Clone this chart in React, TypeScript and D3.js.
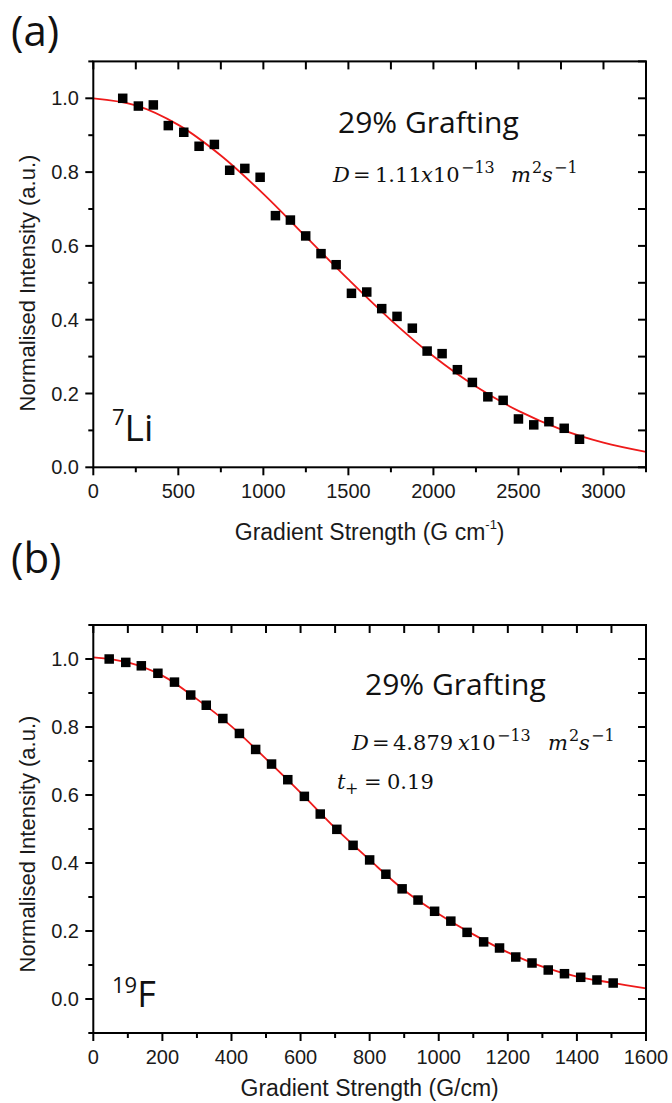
import React from "react";
import * as d3 from "d3";

// ---------- Data ----------
// Panel (a): 7Li
const liGradient = [173, 265, 353, 441, 532, 622, 712, 802, 891, 981, 1071, 1159, 1249, 1339, 1428, 1518, 1608, 1696, 1786, 1876, 1963, 2051, 2141, 2229, 2320, 2410, 2500, 2590, 2679, 2769, 2859];
const liIntensity = [1.0, 0.979, 0.982, 0.926, 0.908, 0.870, 0.875, 0.805, 0.810, 0.786, 0.682, 0.670, 0.627, 0.579, 0.549, 0.4715, 0.475, 0.430, 0.409, 0.377, 0.315, 0.308, 0.2645, 0.230, 0.191, 0.1815, 0.131, 0.115, 0.1236, 0.1057, 0.076];
const liFitGradient = [0, 250, 500, 750, 1000, 1250, 1500, 1750, 2000, 2250, 2500, 2750, 3000, 3250];
const liFitIntensity = [1.0, 0.981, 0.928, 0.845, 0.741, 0.625, 0.509, 0.399, 0.301, 0.219, 0.153, 0.103, 0.067, 0.042];

// Panel (b): 19F
const fGradient = [46, 94, 139, 187, 235, 282, 327, 375, 423, 470, 516, 563, 611, 657, 705, 752, 800, 847, 894, 940, 988, 1035, 1082, 1130, 1176, 1223, 1270, 1317, 1364, 1411, 1458, 1505];
const fIntensity = [1.0, 0.990, 0.980, 0.958, 0.932, 0.894, 0.864, 0.825, 0.781, 0.734, 0.691, 0.645, 0.596, 0.544, 0.499, 0.452, 0.409, 0.367, 0.324, 0.291, 0.258, 0.229, 0.196, 0.168, 0.150, 0.1235, 0.1059, 0.0853, 0.0744, 0.0638, 0.0559, 0.047];
const fFitGradient = [0, 100, 200, 300, 400, 500, 600, 700, 800, 900, 1000, 1100, 1200, 1300, 1400, 1500, 1600];
const fFitIntensity = [1.005, 0.990, 0.951, 0.882, 0.802, 0.706, 0.607, 0.503, 0.409, 0.320, 0.250, 0.190, 0.137, 0.095, 0.066, 0.048, 0.031];

// Tick labels
const liXTicks = [0, 500, 1000, 1500, 2000, 2500, 3000];
const fXTicks = [0, 200, 400, 600, 800, 1000, 1200, 1400, 1600];
const yTicks = [0.0, 0.2, 0.4, 0.6, 0.8, 1.0];

const SANS = "'Liberation Sans', Arial, sans-serif";
const UI = "'Open Sans', 'Noto Sans', sans-serif";
const MATH = "'DejaVu Serif', 'Liberation Serif', serif";
const RED = "#ee1a1a";

type PanelProps = {
  top: number;
  bottom: number;
  xDomain: [number, number];
  yDomain: [number, number];
  xMajor: number[];
  xMinorStep: number;
  gx: number[];
  iy: number[];
  fitX: number[];
  fitY: number[];
  xTitle: React.ReactNode;
  xTitleY: number;
  yTitleCenter: number;
};

function Panel(p: PanelProps) {
  const left = 93.3;
  const right = 646;
  const x = d3.scaleLinear().domain(p.xDomain).range([left, right]);
  const y = d3.scaleLinear().domain(p.yDomain).range([p.bottom, p.top]);
  const xMinor = d3.range(p.xDomain[0], p.xDomain[1] + 1e-6, p.xMinorStep);
  const yAll = d3.range(Math.round(p.yDomain[0] * 10), Math.round(p.yDomain[1] * 10) + 1).map((v) => v / 10);
  const isMajorY = (v: number) => yTicks.some((t) => Math.abs(t - v) < 1e-6);
  const isMajorX = (v: number) => p.xMajor.some((t) => Math.abs(t - v) < 1e-6);
  const line = d3
    .line<number>()
    .x((_, i) => x(p.fitX[i]))
    .y((d) => y(d))
    .curve(d3.curveCatmullRom);
  const sq = 9.5;
  return (
    <g>
      <path d={line(p.fitY) || ""} fill="none" stroke={RED} strokeWidth={1.8} />
      {p.gx.map((g, i) => (
        <rect key={i} x={x(g) - sq / 2} y={y(p.iy[i]) - sq / 2} width={sq} height={sq} fill="#000" />
      ))}
      <rect x={left} y={p.top} width={right - left} height={p.bottom - p.top} fill="none" stroke="#000" strokeWidth={2} />
      {xMinor.map((v, i) => {
        const major = isMajorX(v);
        const len = major ? 8 : 5;
        return (
          <g key={"x" + i}>
            <line x1={x(v)} x2={x(v)} y1={p.bottom} y2={p.bottom + len} stroke="#000" strokeWidth={2} />
            <line x1={x(v)} x2={x(v)} y1={p.top} y2={p.top + 8} stroke="#000" strokeWidth={2} />
          </g>
        );
      })}
      {yAll.map((v, i) => {
        const major = isMajorY(v);
        const len = major ? 8 : 5;
        return (
          <g key={"y" + i}>
            <line x1={left - len} x2={left} y1={y(v)} y2={y(v)} stroke="#000" strokeWidth={2} />
            <line x1={right - 8} x2={right} y1={y(v)} y2={y(v)} stroke="#000" strokeWidth={2} />
          </g>
        );
      })}
      {p.xMajor.map((v) => (
        <text key={"xl" + v} x={x(v)} y={p.bottom + 31} textAnchor="middle" fontFamily={SANS} fontSize={20} fill="#1a1a1a">
          {v}
        </text>
      ))}
      {yTicks.map((v) => (
        <text key={"yl" + v} x={79} y={y(v) + 7} textAnchor="end" fontFamily={SANS} fontSize={20} fill="#1a1a1a">
          {v.toFixed(1)}
        </text>
      ))}
      <text x={(left + right) / 2} y={p.xTitleY} textAnchor="middle" fontFamily={SANS} fontSize={23} fill="#1a1a1a">
        {p.xTitle}
      </text>
      <text
        transform={`translate(35,${p.yTitleCenter}) rotate(-90)`}
        textAnchor="middle"
        fontFamily={SANS}
        fontSize={22}
        fill="#1a1a1a"
      >
        Normalised Intensity (a.u.)
      </text>
    </g>
  );
}

type Piece = { t: string; x: number; it?: boolean; sup?: boolean; sub?: boolean };

function MathText({ pieces, y }: { pieces: Piece[]; y: number }) {
  return (
    <g fontFamily={MATH} fill="#111">
      {pieces.map((pc, i) => (
        <text
          key={i}
          x={pc.x}
          y={pc.sup ? y - 9 : pc.sub ? y + 5 : y}
          fontSize={pc.sup || pc.sub ? 16 : 21}
          fontStyle={pc.it ? "italic" : "normal"}
        >
          {pc.t}
        </text>
      ))}
    </g>
  );
}

const eqA: Piece[] = [
  { t: "D", x: 333, it: true },
  { t: "=", x: 353 },
  { t: "1.11", x: 375 },
  { t: "x", x: 421, it: true },
  { t: "10", x: 433 },
  { t: "−13", x: 461, sup: true },
  { t: "m", x: 511, it: true },
  { t: "2", x: 532, sup: true },
  { t: "s", x: 542, it: true },
  { t: "−1", x: 554, sup: true },
];

const eqB: Piece[] = [
  { t: "D", x: 352, it: true },
  { t: "=", x: 372 },
  { t: "4.879", x: 393 },
  { t: "x", x: 458, it: true },
  { t: "10", x: 469 },
  { t: "−13", x: 497, sup: true },
  { t: "m", x: 548, it: true },
  { t: "2", x: 569, sup: true },
  { t: "s", x: 579, it: true },
  { t: "−1", x: 591, sup: true },
];

const tPlus: Piece[] = [
  { t: "t", x: 337, it: true },
  { t: "+", x: 345, sub: true },
  { t: "=", x: 364 },
  { t: "0.19", x: 387 },
];

export default function App() {
  return (
    <svg
      width={672}
      height={1103}
      viewBox="0 0 672 1103"
      style={{ position: "absolute", left: 0, top: 0, background: "#fff" }}
    >
      <rect x={0} y={0} width={672} height={1103} fill="#fff" />
      {/* Panel (a) */}
      <text x={11} y={46} fontFamily={UI} fontSize={42} fill="#111">(a)</text>
      <Panel
        top={61.4}
        bottom={467.3}
        xDomain={[0, 3250]}
        yDomain={[0, 1.1]}
        xMajor={liXTicks}
        xMinorStep={250}
        gx={liGradient}
        iy={liIntensity}
        fitX={liFitGradient}
        fitY={liFitIntensity}
        yTitleCenter={283}
        xTitleY={540}
        xTitle={
          <>
            Gradient Strength (G cm
            <tspan fontSize={13} dy={-11}>-1</tspan>
            <tspan dy={11}>)</tspan>
          </>
        }
      />
      <text x={338} y={133} fontFamily={UI} fontSize={30} fill="#111">29% Grafting</text>
      <MathText pieces={eqA} y={182} />
      <text x={112} y={441} fontFamily={UI} fontSize={37} fill="#111">
        <tspan fontSize={22} dy={-16}>7</tspan>
        <tspan dy={16}>Li</tspan>
      </text>

      {/* Panel (b) */}
      <text x={11} y={573} fontFamily={UI} fontSize={42} fill="#111">(b)</text>
      <Panel
        top={625}
        bottom={1033}
        xDomain={[0, 1600]}
        yDomain={[-0.1, 1.1]}
        xMajor={fXTicks}
        xMinorStep={100}
        gx={fGradient}
        iy={fIntensity}
        fitX={fFitGradient}
        fitY={fFitIntensity}
        yTitleCenter={844}
        xTitleY={1096}
        xTitle={<>Gradient Strength (G/cm)</>}
      />
      <text x={365} y={695} fontFamily={UI} fontSize={30} fill="#111">29% Grafting</text>
      <MathText pieces={eqB} y={750} />
      <MathText pieces={tPlus} y={789} />
      <text x={112} y={1007} fontFamily={UI} fontSize={36} fill="#111">
        <tspan fontSize={22} dy={-14}>19</tspan>
        <tspan dy={14}>F</tspan>
      </text>
    </svg>
  );
}
